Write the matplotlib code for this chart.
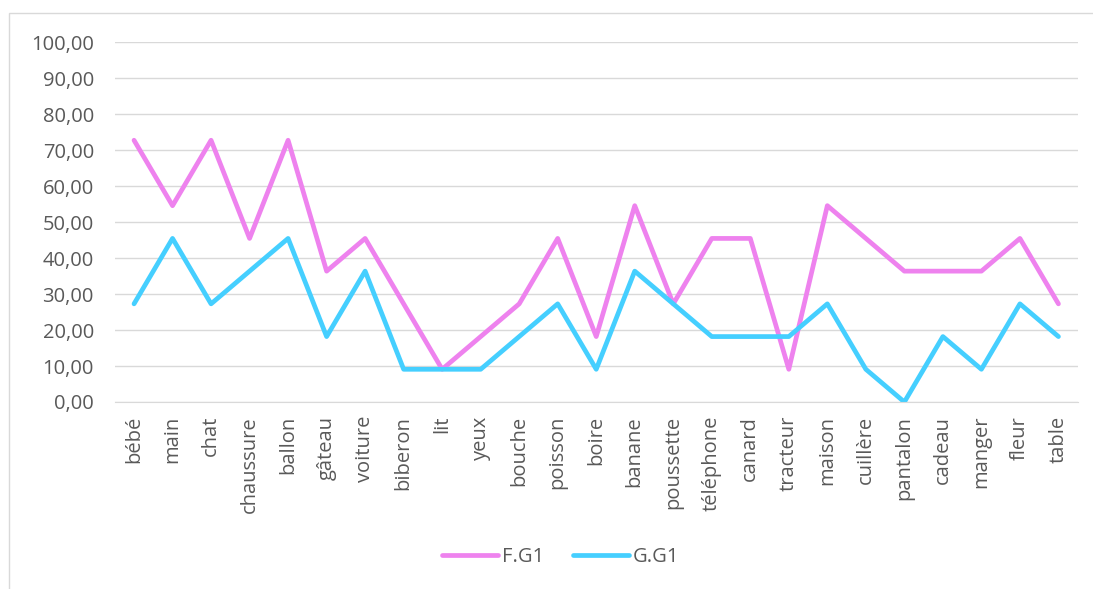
import matplotlib.pyplot as plt
from matplotlib.patches import Rectangle

plt.rcParams['font.family'] = ['Open Sans', 'DejaVu Sans']

# Données
mots = ['bébé', 'main', 'chat', 'chaussure', 'ballon', 'gâteau', 'voiture',
        'biberon', 'lit', 'yeux', 'bouche', 'poisson', 'boire', 'banane',
        'poussette', 'téléphone', 'canard', 'tracteur', 'maison', 'cuillère',
        'pantalon', 'cadeau', 'manger', 'fleur', 'table']
f_g1 = [72.73, 54.55, 72.73, 45.45, 72.73, 36.36, 45.45, 27.27, 9.09, 18.18,
        27.27, 45.45, 18.18, 54.55, 27.27, 45.45, 45.45, 9.09, 54.55, 45.45,
        36.36, 36.36, 36.36, 45.45, 27.27]
g_g1 = [27.27, 45.45, 27.27, 36.36, 45.45, 18.18, 36.36, 9.09, 9.09, 9.09,
        18.18, 27.27, 9.09, 36.36, 27.27, 18.18, 18.18, 18.18, 27.27, 9.09,
        0.00, 18.18, 9.09, 27.27, 18.18]

fig = plt.figure(figsize=(10.93, 5.89), dpi=100)
fig.patches.append(Rectangle((9 / 1093, -0.01), 1.1, 1 - 13 / 589 + 0.01,
                             transform=fig.transFigure, fill=False,
                             edgecolor='#D9D9D9', linewidth=1))
ax = fig.add_axes([0.105, 0.3175, 0.881, 0.611])

x = range(len(mots))
ax.plot(x, f_g1, color='#EE82EE', linewidth=3.4, label='F.G1',
        solid_joinstyle='round', solid_capstyle='round')
ax.plot(x, g_g1, color='#45CFFF', linewidth=3.4, label='G.G1',
        solid_joinstyle='round', solid_capstyle='round')

ax.set_xlim(-0.5, len(mots) - 0.5)
ax.set_ylim(0, 100)
ax.set_yticks(range(0, 101, 10))
ax.set_yticklabels([f'{v},00' for v in range(0, 101, 10)])
ax.set_xticks(list(x))
ax.set_xticklabels(mots, rotation=90)
ax.tick_params(axis='both', length=0, labelsize=14.5, labelcolor='#595959')
ax.tick_params(axis='y', pad=15)
ax.tick_params(axis='x', pad=10)
ax.grid(axis='y', color='#D9D9D9', linewidth=1)
ax.set_axisbelow(True)
for s in ['top', 'right', 'left']:
    ax.spines[s].set_visible(False)
ax.spines['bottom'].set_color('#D9D9D9')

fig.legend(loc='center', bbox_to_anchor=(0.513, 1 - 557 / 589), ncol=2,
           frameon=False, fontsize=14.5, labelcolor='#595959',
           handlelength=2.8, handletextpad=0.2, columnspacing=1.4)

fig.savefig('out.png', dpi=100)
